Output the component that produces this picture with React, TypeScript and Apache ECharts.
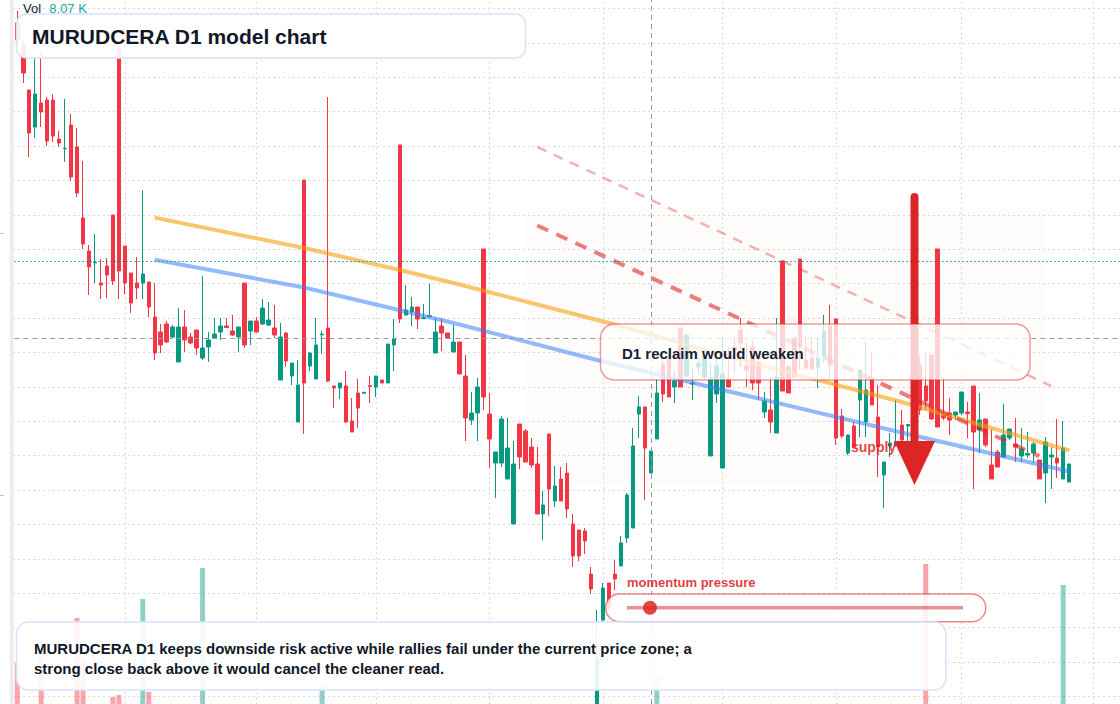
import React, { useEffect, useRef } from 'react';
import * as echarts from 'echarts';

// ---------- data (prices in INR, volume in thousands) ----------
const opens = [
  97.7, 95.5, 91.0, 87.3, 89.7, 90.0, 90.0, 86.1, 85.12, 87.5, 85.3, 78.2, 74.9, 73.72, 71.7, 73.4, 78.5, 95.2, 75.4, 72.7,
  71.7, 71.7, 71.8, 68.3, 66.8, 67.6, 66.3, 63.8, 67.3, 66.3, 67.0, 64.2, 65.3, 66.2, 66.8, 67.4, 66.9, 66.3, 71.7, 66.9,
  67.9, 67.6, 67.5, 67.2, 62.0, 66.7, 62.4, 57.8, 82.0, 63.4, 62.1, 66.52, 67.2, 61.4, 61.2, 61.4, 57.9, 60.7, 60.67, 61.42,
  61.3, 62.0, 61.7, 65.5, 85.5, 68.5, 68.8, 69.3, 68.13, 68.33, 64.7, 67.4, 66.7, 64.8, 65.8, 62.4, 58.0, 58.7, 75.1, 58.6,
  53.7, 53.7, 52.1, 47.6, 57.6, 56.9, 55.3, 53.6, 48.6, 56.6, 49.9, 52.1, 52.7, 47.6, 47.0, 46.9, 42.6, 24.0, 38.0, 41.7,
  42.6, 43.4, 46.2, 47.2, 58.6, 59.3, 52.7, 56.1, 63.6, 64.4, 61.3, 67.2, 62.4, 61.6, 63.3, 62.3, 54.4, 60.6, 53.2, 62.1,
  65.3, 67.0, 63.4, 65.3, 63.8, 58.8, 59.0, 56.7, 73.9, 63.3, 66.2, 74.1, 64.0, 64.2, 63.3, 64.4, 67.4, 68.1, 58.4, 54.7,
  57.4, 60.0, 57.8, 62.2, 58.3, 52.5, 55.4, 55.5, 57.5, 57.4, 63.0, 63.5, 61.4, 64.5, 75.1, 58.5, 58.7, 58.5, 58.7, 58.8,
  61.4, 57.0, 58.1, 53.5, 54.8, 54.3, 56.2, 55.6, 54.4, 54.5, 54.7, 54.0, 52.7, 54.3, 54.2, 52.1, 51.8,
];
const closes = [
  96.0, 92.7, 86.7, 90.6, 88.8, 85.9, 86.4, 85.7, 85.18, 82.3, 80.7, 75.6, 73.3, 73.8, 71.5, 72.5, 71.9, 72.9, 71.7, 69.7,
  71.2, 72.6, 69.3, 64.7, 65.5, 65.8, 67.3, 67.3, 66.0, 65.7, 65.2, 65.2, 66.0, 66.6, 67.4, 67.25, 66.5, 67.3, 65.5, 67.9,
  66.8, 69.2, 68.0, 66.5, 66.3, 63.9, 63.7, 61.5, 61.7, 64.7, 65.5, 66.6, 61.9, 61.2, 61.7, 57.8, 56.8, 59.2, 60.77, 61.35,
  62.4, 61.7, 65.6, 66.1, 68.1, 69.0, 69.3, 68.1, 68.23, 68.43, 66.8, 66.7, 66.2, 65.8, 62.6, 58.2, 58.7, 61.3, 60.3, 56.1,
  54.8, 58.1, 55.2, 53.6, 54.3, 53.8, 53.5, 48.6, 49.5, 51.1, 51.4, 49.9, 49.1, 44.4, 44.4, 45.9, 41.1, 34.2, 41.2, 39.2,
  42.1, 45.7, 50.5, 55.4, 59.3, 55.2, 54.9, 60.7, 60.6, 60.3, 61.9, 61.3, 66.5, 61.7, 63.7, 64.4, 62.2, 63.4, 62.6, 61.3,
  65.0, 65.7, 63.0, 61.7, 61.7, 59.9, 57.8, 62.3, 60.9, 60.7, 62.3, 65.3, 63.2, 63.1, 64.2, 66.9, 63.5, 56.2, 56.4, 56.5,
  55.3, 63.0, 61.0, 59.5, 55.3, 53.8, 55.7, 55.8, 56.0, 57.55, 60.0, 59.0, 59.9, 58.1, 57.3, 58.2, 58.0, 58.8, 60.8, 58.65,
  56.8, 58.0, 55.5, 52.1, 53.3, 56.5, 57.1, 55.3, 55.1, 54.65, 55.6, 52.1, 55.8, 54.5, 53.7, 55.2, 53.6,
];
const lows = [
  95.5, 91.7, 84.3, 86.2, 87.3, 85.4, 85.8, 85.3, 83.8, 81.9, 80.3, 75.1, 70.5, 71.7, 70.1, 70.2, 71.5, 70.1, 70.6, 68.7,
  70.1, 70.1, 68.3, 64.0, 64.7, 65.7, 66.2, 63.8, 64.8, 65.6, 64.5, 64.0, 63.8, 66.1, 66.0, 67.2, 66.4, 64.8, 65.2, 65.5,
  66.8, 67.5, 67.4, 66.2, 62.0, 63.3, 61.5, 57.8, 56.6, 62.9, 62.1, 64.6, 61.8, 59.2, 60.1, 57.7, 56.8, 57.2, 60.65, 59.7,
  60.3, 61.7, 61.7, 62.9, 67.7, 68.5, 67.4, 67.1, 68.1, 68.3, 64.7, 64.9, 66.2, 64.8, 62.6, 55.9, 57.5, 55.9, 59.0, 53.2,
  50.2, 53.3, 52.1, 47.6, 53.1, 53.8, 53.2, 48.6, 46.0, 48.4, 49.3, 49.9, 48.2, 43.3, 43.9, 44.6, 40.6, 23.0, 37.8, 39.0,
  41.0, 43.4, 45.7, 47.2, 56.2, 50.0, 52.7, 56.1, 59.8, 60.3, 59.7, 61.3, 62.2, 60.0, 62.7, 62.0, 54.4, 59.7, 53.2, 61.3,
  62.8, 63.3, 61.3, 61.0, 60.0, 58.2, 56.7, 56.7, 60.9, 60.7, 62.3, 63.0, 63.0, 63.0, 61.2, 63.7, 62.2, 55.5, 56.2, 54.5,
  55.2, 56.3, 56.3, 59.5, 52.3, 49.2, 54.3, 55.3, 55.5, 55.7, 59.0, 58.5, 59.0, 58.0, 57.3, 58.0, 56.5, 58.0, 58.5, 56.2,
  51.1, 54.7, 55.3, 52.1, 53.3, 54.3, 56.0, 53.8, 53.8, 54.2, 53.7, 52.1, 49.7, 51.1, 52.2, 52.1, 51.8,
];
const highs = [
  98.9, 96.0, 91.0, 94.5, 94.8, 90.3, 90.6, 86.9, 90.1, 88.6, 87.2, 83.9, 75.5, 76.6, 74.1, 74.2, 78.5, 95.5, 75.4, 72.7,
  74.3, 81.0, 71.8, 71.7, 67.6, 67.9, 67.5, 69.2, 69.0, 66.7, 67.0, 72.4, 66.8, 68.2, 68.2, 68.2, 68.5, 67.3, 71.7, 67.9,
  68.3, 70.1, 69.8, 69.5, 67.7, 66.8, 63.7, 64.0, 82.0, 64.8, 68.2, 66.9, 90.3, 61.4, 61.7, 62.9, 60.2, 62.1, 60.8, 62.4,
  62.4, 62.0, 65.6, 68.1, 85.5, 71.5, 70.3, 69.3, 69.6, 71.6, 68.2, 68.2, 66.7, 67.5, 65.8, 64.5, 60.8, 62.2, 75.1, 60.7,
  54.8, 58.4, 58.2, 55.9, 57.6, 57.1, 56.2, 55.3, 50.9, 56.6, 53.4, 53.3, 53.7, 48.6, 47.0, 47.2, 43.3, 39.0, 41.7, 41.7,
  44.0, 46.4, 50.7, 57.2, 60.4, 59.3, 54.9, 62.1, 64.0, 65.0, 63.0, 67.2, 66.6, 63.3, 64.3, 65.0, 63.7, 64.2, 66.3, 65.3,
  66.2, 68.2, 65.8, 66.0, 64.5, 60.8, 62.3, 68.2, 73.9, 63.5, 66.2, 74.1, 66.3, 66.3, 66.2, 68.5, 69.5, 68.1, 59.1, 56.5,
  57.8, 63.0, 65.8, 64.8, 61.5, 53.8, 56.7, 60.0, 59.0, 57.6, 64.0, 64.5, 64.7, 64.5, 75.1, 62.2, 60.2, 58.8, 60.8, 59.8,
  61.4, 60.7, 58.1, 57.1, 55.0, 59.6, 57.1, 58.2, 57.2, 56.8, 55.8, 54.0, 56.3, 55.3, 58.1, 57.9, 53.6,
];
const volumes = [
  13.7, 7.2, 6.5, 9.1, 15.0, 5.8, 4.9, 3.6, 6.1, 8.4, 18.2, 14.0, 9.3, 5.2, 4.4, 6.9, 10.3, 10.5, 7.8, 5.5,
  4.1, 20.1, 10.8, 8.8, 5.3, 3.9, 4.6, 7.4, 5.0, 3.2, 4.8, 23.2, 6.3, 4.2, 3.7, 2.9, 3.4, 4.5, 9.2, 5.1,
  3.6, 5.7, 4.0, 3.8, 8.5, 6.2, 4.3, 7.9, 9.6, 5.4, 6.8, 11.4, 9.4, 4.7, 3.5, 6.6, 5.9, 4.4, 2.6, 3.1,
  3.9, 2.7, 7.1, 5.6, 9.5, 4.9, 3.8, 4.2, 2.8, 3.3, 6.0, 4.6, 2.9, 5.2, 6.4, 8.1, 4.0, 7.3, 9.0, 6.7,
  8.6, 7.5, 5.8, 8.9, 6.1, 4.8, 3.9, 7.0, 6.3, 8.2, 5.0, 4.5, 6.9, 8.7, 5.6, 4.2, 7.8, 9.3, 8.4, 6.0,
  4.7, 5.5, 7.6, 9.4, 6.2, 7.1, 8.07, 12.2, 7.7, 8.3, 4.9, 6.8, 5.7, 3.4, 3.0, 4.1, 8.0, 5.3, 9.1, 4.6,
  3.7, 5.9, 3.2, 4.4, 5.1, 3.6, 4.8, 7.2, 9.5, 4.3, 3.8, 8.8, 3.1, 2.7, 3.5, 5.0, 4.6, 9.2, 5.4, 4.0,
  3.3, 6.4, 5.8, 4.1, 6.7, 5.2, 3.0, 3.6, 4.2, 2.8, 5.5, 6.1, 23.6, 7.4, 9.5, 4.5, 3.9, 2.6, 3.7, 3.1,
  6.6, 4.4, 4.9, 5.7, 3.8, 5.1, 3.2, 3.6, 4.0, 2.9, 3.3, 4.7, 5.9, 3.5, 4.3, 21.5, 6.2,
];
// volume pane shows only the upper part of its scale (floor of the visible window, in K)
const volumeFloor = 9.6;
const volumeCeil = 30;
// session slots on the time axis (candles + empty right margin)
const SLOT_COUNT = 185;
const sessions = Array.from({ length: SLOT_COUNT }, (_, i) => `S${i + 1}`);
const monthStarts = [18, 40, 60, 79, 98, 118, 137, 158, 180];

// drawn overlays, [session index, price]
const resistanceLine = [[23, 78.24], [48, 75.2], [64, 73.0], [73, 71.7], [99, 67.7], [123, 63.7], [148, 59.8], [176, 54.95]];
const supportLine = [[23, 74.03], [48, 71.25], [73, 67.7], [97, 64.0], [123, 60.3], [150, 56.45], [176, 52.85]];
const upperChannel = [[87, 85.3], [173, 61.4]];
const lowerChannel = [[87, 77.45], [171, 54.37]];
const supplyZone = { from: 85, to: 172, top: 79.3, bottom: 51.7 };
const lastPrice = 73.9;
const crosshair = { index: 106, price: 66.17, volume: '8.07 K' };
const arrowMark = { index: 150, top: 80.3, headBase: 55.9, tip: 51.5 };

const UP = '#089981';
const DOWN = '#f23645';
const FONT = '"Liberation Sans", Arial, Helvetica, sans-serif';

export default function App() {
  const ref = useRef<HTMLDivElement>(null);
  useEffect(() => {
    const el = ref.current as HTMLDivElement;
    const chart = echarts.init(el, null, { renderer: 'svg', width: 1120, height: 704 });
    const candles = opens.map((o, i) => [o, closes[i], lows[i], highs[i]]);
    const vols = volumes.map((v, i) => ({
      value: v,
      itemStyle: { color: closes[i] >= opens[i] ? 'rgba(8,153,129,0.45)' : 'rgba(242,54,69,0.45)' },
    }));
    const hidden = { show: false };
    chart.setOption({
      animation: false,
      backgroundColor: '#ffffff',
      grid: [
        { left: 14.3, top: 0, width: 6 * SLOT_COUNT, height: 704 },
        { left: 14.3, top: 500, width: 6 * SLOT_COUNT, height: 204 },
        { left: 13.3, top: 8.4, width: 1106.7, height: 688 },
      ],
      xAxis: [
        { type: 'category', gridIndex: 0, data: sessions, boundaryGap: true, axisLine: hidden, axisTick: hidden, axisLabel: hidden, splitLine: hidden },
        { type: 'category', gridIndex: 1, data: sessions, boundaryGap: true, axisLine: hidden, axisTick: hidden, axisLabel: hidden, splitLine: hidden },
        { type: 'value', gridIndex: 2, min: 0, max: 1, axisLine: hidden, axisTick: hidden, axisLabel: hidden, splitLine: hidden },
      ],
      yAxis: [
        { type: 'value', gridIndex: 0, min: 29.6, max: 100, axisLine: hidden, axisTick: hidden, axisLabel: hidden, splitLine: hidden },
        { type: 'value', gridIndex: 1, min: volumeFloor, max: volumeCeil, axisLine: hidden, axisTick: hidden, axisLabel: hidden, splitLine: hidden },
        {
          type: 'value', gridIndex: 2, min: 0, max: 20, interval: 1,
          axisLine: hidden, axisTick: hidden, axisLabel: hidden,
          splitLine: { show: true, lineStyle: { color: '#c9cdd4', type: [1.5, 3.5], width: 1 } },
        },
      ],
      series: [
        { type: 'line', xAxisIndex: 2, yAxisIndex: 2, data: [], silent: true },
        {
          type: 'bar', xAxisIndex: 1, yAxisIndex: 1, data: vols, barWidth: 5, silent: true, z: 1, clip: true,
        },
        {
          type: 'candlestick', xAxisIndex: 0, yAxisIndex: 0, data: candles, barWidth: 4, silent: true, z: 2,
          itemStyle: { color: UP, color0: DOWN, borderColor: UP, borderColor0: DOWN, borderWidth: 1 },
          markLine: {
            silent: true, z: 0, symbol: 'none', label: { show: false },
            lineStyle: { color: '#c9cdd4', type: [1.5, 3.5], width: 1 },
            data: monthStarts.map((m) => ({ xAxis: m })),
          },
          markArea: {
            silent: true, z: 0,
            itemStyle: { color: 'rgba(220,120,80,0.025)' },
            data: [[{ coord: [supplyZone.from, supplyZone.top] }, { coord: [supplyZone.to, supplyZone.bottom] }]],
          },
        },
        {
          type: 'line', xAxisIndex: 0, yAxisIndex: 0, data: resistanceLine, symbol: 'none', silent: true, z: 3,
          lineStyle: { color: 'rgba(245,158,11,0.6)', width: 4 },
          markLine: {
            silent: true, z: 4, symbol: 'none', label: { show: false },
            data: [
              { yAxis: lastPrice, lineStyle: { color: UP, type: [1.5, 2.5], width: 1 } },
              { yAxis: crosshair.price, lineStyle: { color: '#9598a1', type: [5, 4], width: 1 } },
              { xAxis: crosshair.index, lineStyle: { color: '#9598a1', type: [5, 4], width: 1 } },
            ],
          },
        },
        {
          type: 'line', xAxisIndex: 0, yAxisIndex: 0, data: supportLine, symbol: 'none', silent: true, z: 3,
          lineStyle: { color: 'rgba(59,130,246,0.55)', width: 4 },
        },
        {
          type: 'line', xAxisIndex: 0, yAxisIndex: 0, data: upperChannel, symbol: 'none', silent: true, z: 3,
          lineStyle: { color: 'rgba(220,38,38,0.35)', width: 2.5, type: [10, 8] },
        },
        {
          type: 'line', xAxisIndex: 0, yAxisIndex: 0, data: lowerChannel, symbol: 'none', silent: true, z: 3,
          lineStyle: { color: 'rgba(220,38,38,0.6)', width: 4, type: [12, 9] },
        },
      ],
    });

    const px = (j: number, v: number) => chart.convertToPixel({ gridIndex: 0 }, [j, v]) as number[];
    const aTop = px(arrowMark.index, arrowMark.top);
    const aBase = px(arrowMark.index, arrowMark.headBase);
    const aTip = px(arrowMark.index, arrowMark.tip);
    const ax = aTop[0] + 0.7;

    chart.setOption({
      graphic: [
        { type: 'rect', z: 1, silent: true, shape: { x: 10, y: 0, width: 3.6, height: 704 }, style: { fill: '#ececec' } },
        { type: 'rect', z: 1, silent: true, shape: { x: 0, y: 233, width: 4, height: 1 }, style: { fill: '#c0c0c0' } },
        { type: 'rect', z: 1, silent: true, shape: { x: 0, y: 495, width: 4, height: 1 }, style: { fill: '#c0c0c0' } },
        // supply zone label
        {
          type: 'text', z: 40, silent: true, x: 851, y: 447,
          style: { text: 'supply zone', fill: 'rgba(220,38,38,0.85)', font: `bold 14px ${FONT}`, textVerticalAlign: 'middle' },
        },
        // arrow
        {
          type: 'line', z: 41, silent: true,
          shape: { x1: ax, y1: aTop[1], x2: ax, y2: aBase[1] + 2 },
          style: { stroke: '#dc2626', lineWidth: 8, lineCap: 'round' },
        },
        {
          type: 'polygon', z: 41, silent: true,
          shape: { points: [[ax - 20.5, aBase[1]], [ax + 20.5, aBase[1]], [ax, aTip[1]]] },
          style: { fill: '#dc2626' },
        },
        // D1 reclaim box
        {
          type: 'rect', z: 60, silent: true,
          shape: { x: 600.5, y: 324, width: 429.5, height: 56, r: 14 },
          style: { fill: 'rgba(255,255,255,0.78)', stroke: 'rgba(220,38,38,0.45)', lineWidth: 1.5 },
        },
        {
          type: 'text', z: 61, silent: true, x: 622, y: 353.5,
          style: { text: 'D1 reclaim would weaken', fill: '#172033', font: `bold 15px ${FONT}`, textVerticalAlign: 'middle' },
        },
        // momentum pressure
        {
          type: 'text', z: 62, silent: true, x: 627, y: 582.5,
          style: { text: 'momentum pressure', fill: 'rgba(220,38,38,0.9)', font: `bold 13px ${FONT}`, textVerticalAlign: 'middle' },
        },
        {
          type: 'rect', z: 60, silent: true,
          shape: { x: 605.7, y: 594, width: 380, height: 27.7, r: 13.8 },
          style: { fill: 'rgba(255,255,255,0.85)', stroke: 'rgba(220,38,38,0.55)', lineWidth: 1.5 },
        },
        {
          type: 'line', z: 61, silent: true,
          shape: { x1: 627, y1: 607.7, x2: 963, y2: 607.7 },
          style: { stroke: 'rgba(220,38,38,0.5)', lineWidth: 3.5 },
        },
        {
          type: 'circle', z: 62, silent: true,
          shape: { cx: 650, cy: 607.7, r: 7 },
          style: { fill: 'rgba(220,38,38,0.85)' },
        },
        // bottom summary
        {
          type: 'rect', z: 63, silent: true,
          shape: { x: 16.5, y: 622, width: 929.5, height: 68, r: 12 },
          style: { fill: 'rgba(255,255,255,0.9)', stroke: '#d6e4fb', lineWidth: 1.5 },
        },
        {
          type: 'text', z: 64, silent: true, x: 34, y: 648,
          style: {
            text: 'MURUDCERA D1 keeps downside risk active while rallies fail under the current price zone; a',
            fill: '#111827', font: `bold 15px ${FONT}`, textVerticalAlign: 'middle',
          },
        },
        {
          type: 'text', z: 64, silent: true, x: 34, y: 668,
          style: {
            text: 'strong close back above it would cancel the cleaner read.',
            fill: '#111827', font: `bold 15px ${FONT}`, textVerticalAlign: 'middle',
          },
        },
        // title
        {
          type: 'rect', z: 63, silent: true,
          shape: { x: 16.5, y: 14, width: 509, height: 44, r: 10 },
          style: { fill: 'rgba(255,255,255,0.9)', stroke: '#d6e4fb', lineWidth: 1.5 },
        },
        {
          type: 'text', z: 64, silent: true, x: 32, y: 36,
          style: { text: 'MURUDCERA D1 model chart', fill: '#111827', font: `bold 21px ${FONT}`, textVerticalAlign: 'middle' },
        },
        // volume legend
        {
          type: 'text', z: 64, silent: true, x: 23, y: 8.5,
          style: { text: 'Vol', fill: '#131722', font: `13px ${FONT}`, textVerticalAlign: 'middle' },
        },
        {
          type: 'text', z: 64, silent: true, x: 49.3, y: 8.5,
          style: { text: crosshair.volume, fill: '#22ab94', font: `13px ${FONT}`, textVerticalAlign: 'middle' },
        },
      ],
    });
    return () => chart.dispose();
  }, []);
  return (
    <div
      ref={ref}
      style={{ position: 'fixed', left: 0, top: 0, width: 1120, height: 704, background: '#ffffff' }}
    />
  );
}
